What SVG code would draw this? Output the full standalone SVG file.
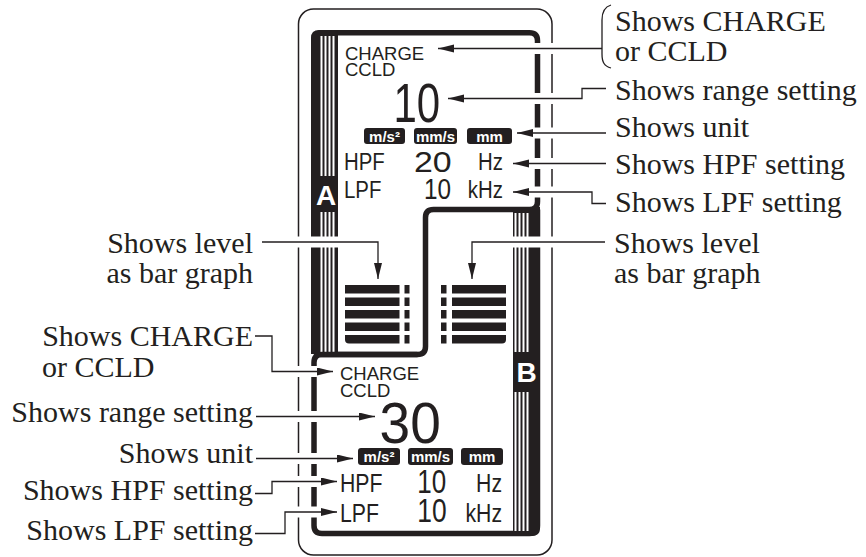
<svg xmlns="http://www.w3.org/2000/svg" width="866" height="557" viewBox="0 0 866 557">
<style>
.lbl{font-family:"Liberation Serif","Times New Roman",serif;font-size:30px;fill:#231f20}
.lcd{font-family:"Liberation Sans",Arial,sans-serif;fill:#231f20}
.seg{font-family:"Liberation Sans",Arial,sans-serif;fill:#231f20}
.unit{font-family:"Liberation Sans",Arial,sans-serif;font-weight:bold;font-size:15px;fill:#fff;text-anchor:middle}
.ub{fill:#231f20}
.big{font-family:"Liberation Sans",Arial,sans-serif;font-weight:bold;font-size:28px;fill:#fff;text-anchor:middle}
.border{fill:none;stroke:#231f20;stroke-width:5.5}
.ln{fill:none;stroke:#231f20;stroke-width:1.3}
.halo{fill:none;stroke:#fff;stroke-width:11}
.bar{fill:#231f20}
</style>
<defs>
<marker id="ah" markerUnits="userSpaceOnUse" markerWidth="17" markerHeight="9" refX="16" refY="4" orient="auto">
<path d="M0,0 L16,4 L0,8 Z" fill="#231f20"/>
</marker>
</defs>
<rect width="866" height="557" fill="#fff"/>

<g id="frame">
<rect x="298.5" y="9" width="253.5" height="546" rx="15" fill="none" stroke="#231f20" stroke-width="1.5"/>
</g>

<g id="panelA">
<path class="border" d="M322,32.8 H529.5 Q537.5,32.8 537.5,40.8 V201.5 Q537.5,209.5 529.5,209.5 H433.5 Q425.5,209.5 425.5,217.5 V346.5 Q425.5,354.5 417.5,354.5 H322 Q314,354.5 314,346.5 V40.8 Q314,32.8 322,32.8 Z"/>
<path d="M319,30 H338 V354 H311 V38 Q311,30 319,30 Z" fill="#231f20"/>
<g fill="#fff">
<rect x="320.5" y="36" width="2" height="140"/><rect x="324.5" y="36" width="2" height="140"/><rect x="328.5" y="36" width="2" height="140"/><rect x="332.5" y="36" width="2" height="140"/>
<rect x="320.5" y="212" width="2" height="140"/><rect x="324.5" y="212" width="2" height="140"/><rect x="328.5" y="212" width="2" height="140"/><rect x="332.5" y="212" width="2" height="140"/>
</g>
<text class="big" x="326" y="205">A</text>
<text class="lcd" x="345" y="60" font-size="18.5">CHARGE</text>
<text class="lcd" x="345" y="76" font-size="18.5">CCLD</text>
<text class="seg" font-size="56" transform="translate(393.4,121.7) scale(0.75,1)">10</text>
<rect class="ub" x="364" y="128" width="41" height="16" rx="3"/>
<text class="unit" x="384.5" y="141.5">m/s²</text>
<rect class="ub" x="414" y="128" width="43" height="16" rx="3"/>
<text class="unit" x="435.5" y="141.5">mm/s</text>
<rect class="ub" x="467" y="128" width="45" height="16" rx="3"/>
<text class="unit" x="489.5" y="141.5">mm</text>
<text class="lcd" font-size="24" transform="translate(344,170) scale(0.85,1)">HPF</text>
<text class="seg" font-size="30" transform="translate(414,171.7) scale(1.13,1)">20</text>
<text class="lcd" font-size="24" text-anchor="end" transform="translate(503,170) scale(0.85,1)">Hz</text>
<text class="lcd" font-size="24" transform="translate(344,198) scale(0.85,1)">LPF</text>
<text class="seg" font-size="29.3" transform="translate(424,199) scale(0.83,1)">10</text>
<text class="lcd" font-size="24" text-anchor="end" transform="translate(503,198) scale(0.85,1)">kHz</text>
<g class="bar">
<rect x="345" y="285" width="54.5" height="8.5"/><rect x="345" y="297.5" width="54.5" height="8.5"/><rect x="345" y="310" width="54.5" height="8.5"/><rect x="345" y="322.5" width="54.5" height="8.5"/><path d="M345,335 H399.5 V343.5 H349 Q345,343.5 345,339.5 Z"/>
<rect x="404.5" y="285" width="5" height="8.5"/><rect x="404.5" y="297.5" width="5" height="8.5"/><rect x="404.5" y="310" width="5" height="8.5"/><rect x="404.5" y="322.5" width="5" height="8.5"/><rect x="404.5" y="335" width="5" height="8.5"/>
</g>
</g>

<g id="panelB">
<path class="border" d="M417.5,354.5 H322 Q314,354.5 314,362.5 V525.5 Q314,533.5 322,533.5 H529.5 Q537.5,533.5 537.5,525.5 V209.5"/>
<path d="M513,207 H540 V528 Q540,536 532,536 H513 Z" fill="#231f20"/>
<g fill="#fff">
<rect x="514.5" y="213" width="2" height="139"/><rect x="518.5" y="213" width="2" height="139"/><rect x="522.5" y="213" width="2" height="139"/><rect x="526.5" y="213" width="2" height="139"/>
<rect x="514.5" y="392" width="2" height="139"/><rect x="518.5" y="392" width="2" height="139"/><rect x="522.5" y="392" width="2" height="139"/><rect x="526.5" y="392" width="2" height="139"/>
</g>
<text class="big" x="526.5" y="382">B</text>
<text class="lcd" x="340" y="380" font-size="18.5">CHARGE</text>
<text class="lcd" x="340" y="397" font-size="18.5">CCLD</text>
<text class="seg" font-size="58" transform="translate(379.5,443.3) scale(0.95,1)">30</text>
<rect class="ub" x="358" y="448" width="42" height="17" rx="3"/>
<text class="unit" x="379" y="462">m/s²</text>
<rect class="ub" x="408" y="448" width="45" height="17" rx="3"/>
<text class="unit" x="430.5" y="462">mm/s</text>
<rect class="ub" x="461" y="448" width="42" height="17" rx="3"/>
<text class="unit" x="482" y="462">mm</text>
<text class="lcd" font-size="25" transform="translate(340,491.7) scale(0.85,1)">HPF</text>
<text class="seg" font-size="32.5" transform="translate(417.2,493.3) scale(0.8,1)">10</text>
<text class="lcd" font-size="25" text-anchor="end" transform="translate(502,491.7) scale(0.85,1)">Hz</text>
<text class="lcd" font-size="25" transform="translate(340,521.7) scale(0.85,1)">LPF</text>
<text class="seg" font-size="33" transform="translate(417.2,521.7) scale(0.8,1)">10</text>
<text class="lcd" font-size="25" text-anchor="end" transform="translate(502,521.7) scale(0.85,1)">kHz</text>
<g class="bar">
<rect x="452" y="285" width="54" height="8.5"/><rect x="452" y="297.5" width="54" height="8.5"/><rect x="452" y="310" width="54" height="8.5"/><rect x="452" y="322.5" width="54" height="8.5"/><path d="M452,335 H506 V339.5 Q506,343.5 502,343.5 H452 Z"/>
<rect x="441" y="285" width="5.5" height="8.5"/><rect x="441" y="297.5" width="5.5" height="8.5"/><rect x="441" y="310" width="5.5" height="8.5"/><rect x="441" y="322.5" width="5.5" height="8.5"/><rect x="441" y="335" width="5.5" height="8.5"/>
</g>
</g>

<g id="connectors">
<g class="halo">
<path d="M528,48.5 H558 M528,98.5 H558 M528,133 H558 M528,163.5 H558 M528,192 H558"/>
<path d="M505,242 H558 M292,242 H345"/>
<path d="M292,371.5 H322 M292,416.5 H322 M292,458.5 H322 M292,481.5 H322 M292,512 H322"/>
</g>
<path class="ln" d="M611,5 C604,7 602,12 602,20 V54 C602,62 604,66 611,68"/>
<path class="ln" marker-end="url(#ah)" d="M602,48.5 H438"/>
<path class="ln" marker-end="url(#ah)" d="M606,88.5 H582 V98.5 H448"/>
<path class="ln" marker-end="url(#ah)" d="M606,133 H517"/>
<path class="ln" marker-end="url(#ah)" d="M606,163.5 H513"/>
<path class="ln" marker-end="url(#ah)" d="M606,203.5 H592 V192 H513"/>
<path class="ln" marker-end="url(#ah)" d="M262,242 H378 V279"/>
<path class="ln" marker-end="url(#ah)" d="M605,242 H472 V279"/>
<path class="ln" marker-end="url(#ah)" d="M255,336 H272 V371.5 H333"/>
<path class="ln" marker-end="url(#ah)" d="M256,416.5 H375"/>
<path class="ln" marker-end="url(#ah)" d="M256,458.5 H353"/>
<path class="ln" marker-end="url(#ah)" d="M255,493.5 H272 V481.5 H337"/>
<path class="ln" marker-end="url(#ah)" d="M255,533.5 H285 V512 H337"/>
</g>

<g id="labels">
<text class="lbl" x="615" y="31">Shows CHARGE</text>
<text class="lbl" x="615" y="61">or CCLD</text>
<text class="lbl" x="615" y="100">Shows range setting</text>
<text class="lbl" x="615" y="137">Shows unit</text>
<text class="lbl" x="615" y="174">Shows HPF setting</text>
<text class="lbl" x="615" y="212">Shows LPF setting</text>
<text class="lbl" x="614" y="253">Shows level</text>
<text class="lbl" x="614" y="283">as bar graph</text>
<text class="lbl" x="253" y="253" text-anchor="end">Shows level</text>
<text class="lbl" x="253" y="283" text-anchor="end">as bar graph</text>
<text class="lbl" x="253" y="346" text-anchor="end">Shows CHARGE</text>
<text class="lbl" x="42" y="377">or CCLD</text>
<text class="lbl" x="253" y="422" text-anchor="end">Shows range setting</text>
<text class="lbl" x="253" y="463" text-anchor="end">Shows unit</text>
<text class="lbl" x="253" y="500" text-anchor="end">Shows HPF setting</text>
<text class="lbl" x="253" y="540" text-anchor="end">Shows LPF setting</text>
</g>
</svg>
